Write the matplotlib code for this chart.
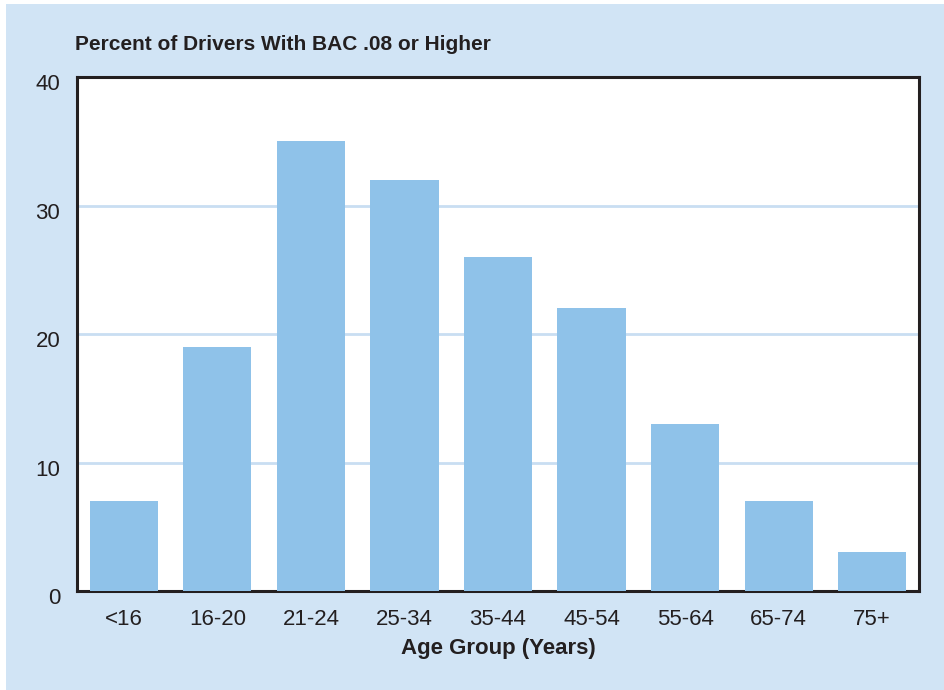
import numpy as np
import matplotlib.pyplot as plt
import matplotlib.transforms as mtransforms

age_groups = ['<16', '16-20', '21-24', '25-34', '35-44', '45-54', '55-64', '65-74', '75+']
pct_bac08 = [7, 19, 35, 32, 26, 22, 13, 7, 3]
y_ticks = [0, 10, 20, 30, 40]

plt.rcParams['font.family'] = ['Liberation Sans', 'DejaVu Sans']

bg = '#d1e4f5'
bar_color = '#8fc2e9'
grid_color = '#c9def2'
ink = '#231f20'

fig = plt.figure(figsize=(9.45, 6.9), dpi=100, facecolor='white')
# light blue panel behind everything
fig.patches.append(plt.Rectangle((6 / 945, 0), 1, 1 - 4 / 690, transform=fig.transFigure,
                                 facecolor=bg, edgecolor='none', zorder=-10))

ax = fig.add_axes([77 / 945, 1 - 591 / 690, 842 / 945, 514 / 690])
ax.set_facecolor('white')

x = np.arange(len(age_groups))
ax.bar(x, pct_bac08, width=0.73, color=bar_color, zorder=3)

ax.set_xlim(-0.5, len(age_groups) - 0.5)
ax.set_ylim(0, 40)

ax.set_yticks(y_ticks)
ax.set_yticklabels([str(t) for t in y_ticks], fontsize=16, color=ink)
ax.tick_params(axis='y', length=0, pad=12)
# nudge the y labels a little below their gridlines
shift = mtransforms.ScaledTranslation(0, -5 / 100, fig.dpi_scale_trans)
for lbl in ax.get_yticklabels():
    lbl.set_transform(lbl.get_transform() + shift)

ax.set_xticks(x)
ax.set_xticklabels(age_groups, fontsize=16, color=ink)
ax.tick_params(axis='x', length=0, pad=13)

for yv in y_ticks[1:-1]:
    ax.axhline(yv, color=grid_color, lw=2, zorder=1)

for s in ax.spines.values():
    s.set_color(ink)
    s.set_linewidth(2.2)

ax.set_xlabel('Age Group (Years)', fontsize=16, fontweight='bold', color=ink, labelpad=6)
fig.text(75 / 945, 1 - 45 / 690, 'Percent of Drivers With BAC .08 or Higher',
         fontsize=15, fontweight='bold', color=ink, ha='left', va='center')

fig.savefig('out.png', dpi=100, facecolor='white')
